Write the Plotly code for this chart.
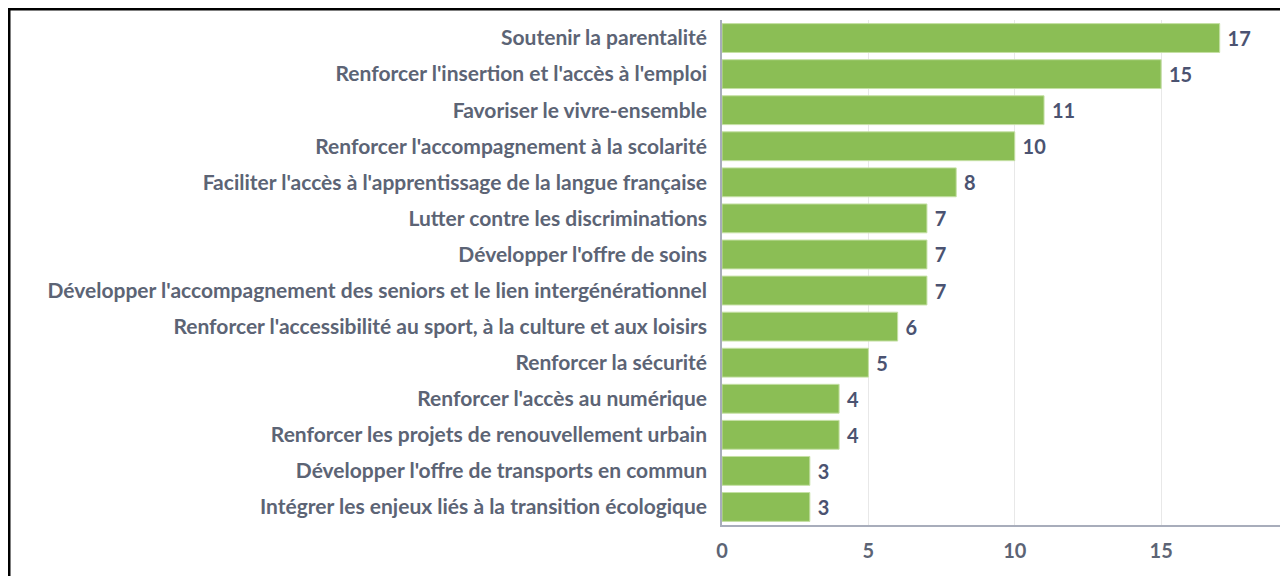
import plotly.graph_objects as go

categories = [
    "Soutenir la parentalité",
    "Renforcer l'insertion et l'accès à l'emploi",
    "Favoriser le vivre-ensemble",
    "Renforcer l'accompagnement à la scolarité",
    "Faciliter l'accès à l'apprentissage de la langue française",
    "Lutter contre les discriminations",
    "Développer l'offre de soins",
    "Développer l'accompagnement des seniors et le lien intergénérationnel",
    "Renforcer l'accessibilité au sport, à la culture et aux loisirs",
    "Renforcer la sécurité",
    "Renforcer l'accès au numérique",
    "Renforcer les projets de renouvellement urbain",
    "Développer l'offre de transports en commun",
    "Intégrer les enjeux liés à la transition écologique",
]
values = [17, 15, 11, 10, 8, 7, 7, 7, 6, 5, 4, 4, 3, 3]
tick_vals = [0, 5, 10, 15]

# figure sits at an 8px page offset: 1280x568 fills the 1288x576 window
W, H = 1280, 568
L, R, T, B = 714, 8, 12, 51
pw, ph = W - L - R, H - T - B

fig = go.Figure(go.Bar(
    x=values,
    y=categories,
    orientation="h",
    marker=dict(color="#8bbe55", line=dict(color="#c5e0a5", width=1)),
    text=["\u00a0" + str(v) for v in values],
    textposition="outside",
    cliponaxis=False,
    textfont=dict(family="Lato", size=20, color="#4b5371", weight="bold"),
))

fig.update_layout(
    width=W, height=H,
    margin=dict(l=L, r=R, t=T, b=B, autoexpand=False),
    paper_bgcolor="white", plot_bgcolor="white",
    bargap=0.2,
    showlegend=False,
    font=dict(family="Lato", color="#5c6475"),
    shapes=[
        dict(type="line", xref="paper", yref="paper", x0=-L / pw, x1=1.1, y0=1 + T / ph, y1=1 + T / ph,
             line=dict(color="black", width=5)),
        dict(type="line", xref="paper", yref="paper", x0=-L / pw, x1=-L / pw, y0=1 + T / ph, y1=-0.2,
             line=dict(color="black", width=5)),
    ],
)
fig.update_xaxes(
    range=[0, 19.06], tickvals=tick_vals,
    showgrid=True, gridcolor="#e8e8e8", gridwidth=1,
    zeroline=False, showline=True, linecolor="#a8adbb", linewidth=1.5,
    ticks="", tickfont=dict(family="Lato", size=20, color="#5c6475", weight="bold"),
    ticklabelstandoff=7,
)
fig.update_yaxes(
    autorange="reversed",
    showline=True, linecolor="#a8adbb", linewidth=1.5,
    showgrid=False, ticks="",
    tickfont=dict(family="Lato", size=21, color="#5c6475", weight="bold"),
    ticklabelstandoff=9,
)

fig.write_html("out.html")
